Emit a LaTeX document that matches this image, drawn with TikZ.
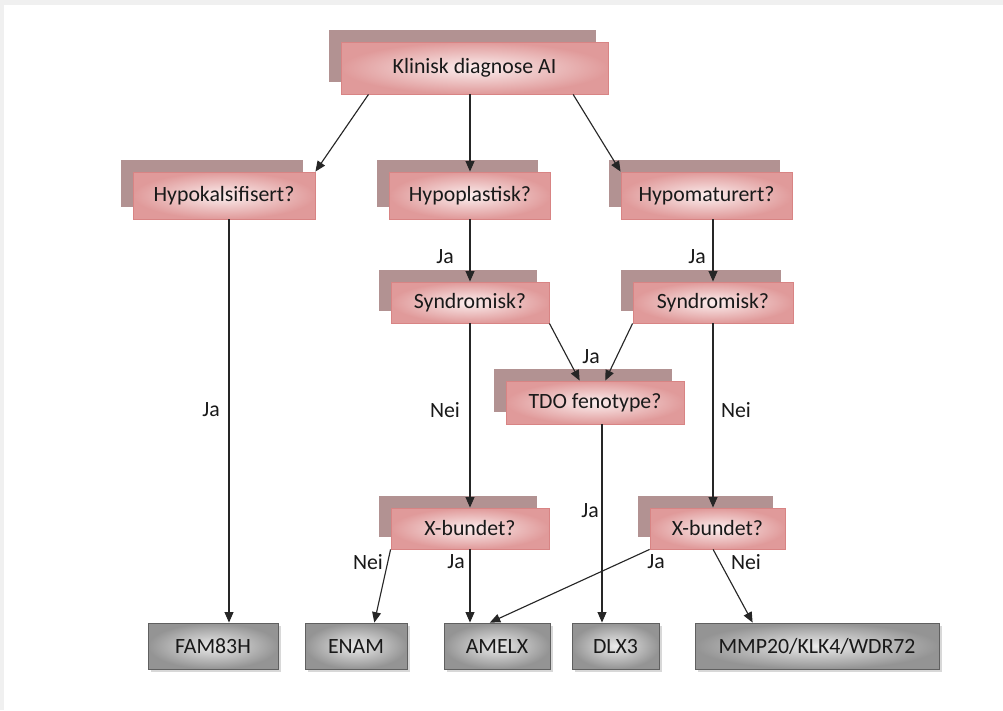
\documentclass[tikz,border=0pt]{standalone}
\usepackage{fontspec}
\setmainfont{Carlito}
\usepackage{xcolor}
\usetikzlibrary{arrows.meta,shadows}

\definecolor{backmauve}{RGB}{178,146,146}
\definecolor{pinkedge}{RGB}{216,132,132}
\definecolor{pinklight}{RGB}{251,238,238}
\definecolor{pinkdark}{RGB}{224,154,154}
\definecolor{geneedge}{RGB}{96,96,96}

\begin{document}
\begin{tikzpicture}[
    x=0.25mm, y=-0.25mm,
    >={Triangle[length=2.6mm,width=2.2mm]},
    font=\fontsize{15.5}{18}\selectfont,
    arr/.style={->, line width=0.8pt, black!85},
    quest/.style={draw=pinkedge, line width=0.6pt, inner color=pinklight,
                  outer color=pinkdark, text=black!90, minimum height=11.75mm,
                  copy shadow={shadow xshift=-3.1mm, shadow yshift=3.1mm,
                               fill=backmauve, draw=none}},
    gene/.style={draw=geneedge, line width=0.6pt, inner color=black!8,
                 outer color=black!42, text=black!90, minimum height=11.5mm,
                 drop shadow={shadow xshift=0.8mm, shadow yshift=-0.8mm, opacity=0.3}},
    lab/.style={inner sep=0pt, text=black!90},
  ]
    % --- frame ---
    \useasboundingbox (0,0) rectangle (1003,710);
    \fill[black!6] (0,0) rectangle (1003,710);
    \fill[white] (4,5) rectangle (1003,710);

    % --- questions ---
    \node[quest, minimum width=66.75mm, minimum height=13mm] (diag) at (474.5,68) {Klinisk diagnose AI};
    \node[quest, minimum width=45.5mm] (hkal) at (224,195.5) {Hypokalsifisert?};
    \node[quest, minimum width=40.25mm] (hpla) at (470,195.5) {Hypoplastisk?};
    \node[quest, minimum width=42.75mm] (hmat) at (706.5,195.5) {Hypomaturert?};
    \node[quest, minimum width=39.5mm, minimum height=10.25mm] (synL) at (470,302.5) {Syndromisk?};
    \node[quest, minimum width=40mm, minimum height=10.25mm] (synR) at (713,302.5) {Syndromisk?};
    \node[quest, minimum width=44.5mm, minimum height=10.75mm] (tdo) at (595,402.5) {TDO fenotype?};
    \node[quest, minimum width=39.5mm, minimum height=10.25mm] (xbL) at (470,528.5) {X-bundet?};
    \node[quest, minimum width=33.75mm, minimum height=10.25mm] (xbR) at (717.5,528.5) {X-bundet?};

    % --- genes ---
    \node[gene, minimum width=32.5mm] (fam) at (213,646) {FAM83H};
    \node[gene, minimum width=25.5mm] (enam) at (356,646) {ENAM};
    \node[gene, minimum width=26.5mm] (amelx) at (497,646) {AMELX};
    \node[gene, minimum width=21.75mm] (dlx) at (615.5,646) {DLX3};
    \node[gene, minimum width=61mm] (mmp) at (817,646) {MMP20/KLK4/WDR72};

    % --- first split ---
    \draw[arr] (diag.194) -- (hkal.north east);
    \draw[arr] (diag.south -| hpla.north) -- (hpla.north);
    \draw[arr] (diag.345) -- (hmat.north west);

    % --- left branch ---
    \draw[arr] ([xshift=1.25mm]hkal.south) -- ([xshift=1.25mm]hkal.south |- fam.north)
      node[lab] at (211,410) {Ja};

    % --- middle and right branches ---
    \draw[arr] (hpla) -- (synL) node[lab] at (445,257) {Ja};
    \draw[arr] (hmat.south -| synR.north) -- (synR.north) node[lab] at (697,257) {Ja};
    \draw[arr] (synL.south east) -- (tdo.125);
    \draw[arr] (synR.south west) -- (tdo.65) node[lab] at (591,357) {Ja};
    \draw[arr] (synL) -- (xbL) node[lab] at (445,410) {Nei};
    \draw[arr] (synR.south) -- (synR.south |- xbR.north) node[lab] at (736,410) {Nei};
    \draw[arr] ([xshift=1.75mm]tdo.south) -- ([xshift=1.75mm]tdo.south |- dlx.north)
      node[lab] at (590,511) {Ja};

    % --- X-linked ---
    \draw[arr] (xbL.south west) -- (enam.52) node[lab] at (368,562) {Nei};
    \draw[arr] (xbL.south) -- (xbL.south |- amelx.north) node[lab] at (456,562) {Ja};
    \draw[arr] (xbR.south west) -- (amelx.107) node[lab] at (656,562) {Ja};
    \draw[arr] ([xshift=-1.1mm]xbR.south) -- (mmp.160) node[lab] at (746,562) {Nei};
  \end{tikzpicture}
\end{document}
